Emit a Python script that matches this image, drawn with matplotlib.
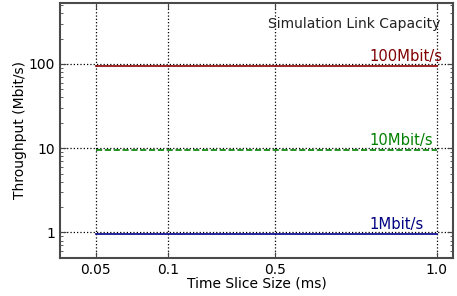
import numpy as np
import matplotlib
matplotlib.use("Agg")
import matplotlib.pyplot as plt

# Data
slice_sizes = [0.05, 0.1, 0.5, 1.0]          # ms
slice_labels = ["0.05", "0.1", "0.5", "1.0"]
thr_100 = [94, 94, 94, 94]                    # Mbit/s
thr_10 = [9.45, 9.45, 9.45, 9.45]
thr_1 = [0.947, 0.947, 0.947, 0.947]
capacities = [100, 10, 1]
cap_labels = ["100Mbit/s", "10Mbit/s", "1Mbit/s"]

# Layout: tick slots along the x axis (non-uniform spacing as in the original)
x_slots = [0, 1, 2.5, 4.75]

def fwd(x):
    x = np.asarray(x, dtype=float)
    xs = np.array(slice_sizes); ps = np.array(x_slots)
    out = np.interp(x, xs, ps)
    lo = x < xs[0]; hi = x > xs[-1]
    out = np.where(lo, ps[0] + (x - xs[0]) * (ps[1] - ps[0]) / (xs[1] - xs[0]), out)
    out = np.where(hi, ps[-1] + (x - xs[-1]) * (ps[-1] - ps[-2]) / (xs[-1] - xs[-2]), out)
    return out

def inv(p):
    p = np.asarray(p, dtype=float)
    xs = np.array(slice_sizes); ps = np.array(x_slots)
    out = np.interp(p, ps, xs)
    lo = p < ps[0]; hi = p > ps[-1]
    out = np.where(lo, xs[0] + (p - ps[0]) * (xs[1] - xs[0]) / (ps[1] - ps[0]), out)
    out = np.where(hi, xs[-1] + (p - ps[-1]) * (xs[-1] - xs[-2]) / (ps[-1] - ps[-2]), out)
    return out

fig = plt.figure(figsize=(4.57, 2.96), dpi=100)
ax = fig.add_axes([60/457, 1-257.7/296, (453.3-60)/457, (257.7-2.7)/296])

ax.set_xscale('function', functions=(fwd, inv))
ax.set_yscale('log')

colors = ['#8b0000', '#008000', '#00008b']
text_colors = ['#800000', '#008000', '#000080']
styles = ['-', '--', '-']
for vals, c, ls in zip([thr_100, thr_10, thr_1], colors, styles):
    ax.plot(slice_sizes, vals, color=c, ls=ls, lw=1.2)

ax.set_xlim(inv(-0.5), inv(4.98))
ax.set_ylim(0.5, 534)
ax.set_xticks(slice_sizes)
ax.set_xticklabels(slice_labels)
ax.set_yticks([1, 10, 100])
ax.set_yticklabels(["1", "10", "100"])
ax.xaxis.set_minor_locator(matplotlib.ticker.NullLocator())

ax.grid(True, which='major', ls=':', color='black', lw=0.9)

for cap, lab, tc in zip(capacities, cap_labels, text_colors):
    ax.text(0.786, cap, lab, transform=ax.get_yaxis_transform(), color=tc,
            fontsize=10.6, ha='left', va='bottom')

ax.text(0.968, 0.915, "Simulation Link Capacity", transform=ax.transAxes,
        ha='right', va='center', fontsize=10, color='#222222')

for s in ax.spines.values():
    s.set_color('#4a4a4a')
    s.set_linewidth(1.5)
ax.tick_params(which='both', direction='in', top=True, right=True, colors='#444444',
               labelcolor='black', labelsize=10)
ax.tick_params(which='major', length=4, width=0.8)
ax.tick_params(which='minor', length=2, width=0.6)

ax.set_xlabel("Time Slice Size (ms)", fontsize=10, labelpad=0)
ax.set_ylabel("Throughput (Mbit/s)", fontsize=10, labelpad=1)

fig.savefig("out.png", dpi=100)
